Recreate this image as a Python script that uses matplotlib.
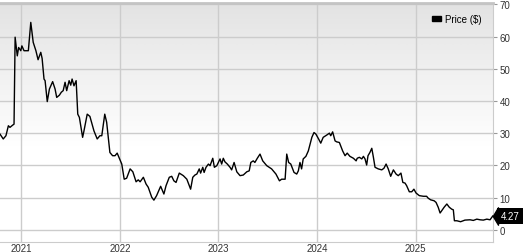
import numpy as np
import pandas as pd
import matplotlib
matplotlib.use("Agg")
import matplotlib.pyplot as plt
from matplotlib.patches import Patch
from matplotlib.colors import LinearSegmentedColormap
from matplotlib.transforms import blended_transform_factory, offset_copy

# weekly closing price
START_DATE = "2020-10-14"
day_offsets = [
    0, 12, 22, 31, 37, 47, 52, 56, 64, 69, 77, 81, 89, 99, 105, 114, 123, 133,
    141, 151, 156, 163, 167, 175, 183, 195, 204, 210, 220, 227, 234, 241, 247,
    256, 262, 267, 274, 282, 288, 294, 306, 311, 323, 333, 348, 360, 370, 377,
    388, 395, 407, 417, 426, 434, 442, 451, 460, 469, 482, 492, 504, 512, 519,
    531, 541, 549, 562, 570, 580, 595, 607, 615, 627, 636, 644, 652, 664, 679,
    692, 706, 714, 722, 729, 738, 743, 751, 756, 763, 772, 778, 788, 794, 803,
    815, 821, 827, 833, 842, 852, 858, 867, 877, 889, 901, 914, 923, 929, 938,
    944, 953, 963, 973, 988, 997, 1006, 1022, 1035, 1043, 1056, 1062, 1069,
    1077, 1089, 1099, 1105, 1111, 1117, 1123, 1133, 1142, 1155, 1163, 1170,
    1180, 1188, 1197, 1210, 1220, 1225, 1232, 1241, 1247, 1257, 1269, 1278,
    1286, 1296, 1309, 1319, 1323, 1331, 1340, 1346, 1352, 1358, 1363, 1370,
    1377, 1383, 1389, 1401, 1414, 1422, 1430, 1438, 1447, 1457, 1467, 1475,
    1485, 1492, 1500, 1506, 1516, 1525, 1533, 1541, 1553, 1568, 1580, 1586,
    1595, 1608, 1615, 1623, 1630, 1636, 1645, 1655, 1664, 1673, 1679, 1683,
    1692, 1706, 1722, 1741, 1753, 1766, 1778, 1790, 1803, 1815, 1825,
]
price = [
    29.7, 28.2, 29.2, 32.3, 31.8, 32.5, 32.8, 59.8, 54.0, 56.6, 55.6, 57.1,
    55.6, 55.6, 55.6, 64.4, 58.2, 55.6, 52.8, 55.1, 53.2, 46.8, 46.3, 39.8,
    43.7, 46.0, 43.7, 41.1, 41.8, 42.7, 43.2, 45.8, 43.2, 46.3, 44.9, 46.8,
    44.7, 46.3, 35.9, 34.9, 28.7, 30.7, 35.9, 35.2, 30.7, 28.2, 29.2, 29.2,
    35.9, 33.4, 24.0, 23.0, 23.0, 23.8, 22.2, 20.4, 15.7, 16.0, 18.9, 18.0,
    14.9, 15.5, 14.9, 16.3, 14.2, 13.2, 10.1, 9.2, 10.6, 13.5, 11.1, 13.7,
    16.3, 16.6, 15.2, 14.7, 17.6, 16.8, 15.7, 12.6, 16.3, 17.0, 17.3, 18.9,
    17.6, 19.4, 17.8, 19.4, 20.4, 19.9, 22.2, 19.4, 19.9, 22.0, 20.4, 22.2,
    21.1, 20.4, 19.4, 18.6, 20.9, 18.0, 16.8, 17.0, 18.0, 18.3, 20.9, 21.4,
    20.9, 22.2, 23.5, 21.4, 19.9, 19.4, 18.9, 17.3, 15.2, 15.7, 15.7, 23.5,
    20.9, 20.4, 17.8, 17.3, 18.3, 20.9, 18.9, 22.0, 22.8, 24.5, 28.7, 30.2,
    29.7, 28.2, 26.9, 28.7, 29.4, 30.0, 29.2, 30.4, 27.6, 27.3, 27.1, 24.5,
    23.0, 23.8, 22.8, 22.2, 21.4, 22.2, 22.5, 22.0, 22.8, 22.0, 20.1, 23.0,
    24.0, 25.3, 22.5, 19.4, 18.9, 18.6, 19.1, 20.4, 18.9, 16.6, 18.6, 17.3,
    16.8, 17.6, 14.7, 14.5, 13.7, 11.8, 11.8, 12.6, 11.4, 10.6, 10.4, 10.4,
    9.8, 9.3, 9.0, 8.5, 7.0, 5.2, 5.9, 7.0, 8.0, 7.0, 6.4, 6.2, 2.8, 2.8,
    2.5, 3.0, 3.1, 2.9, 3.3, 3.1, 3.0, 3.3, 3.1, 4.27,
]
year_ticks = ["2021", "2022", "2023", "2024", "2025"]
y_ticks = [0, 10, 20, 30, 40, 50, 60, 70]

dates = pd.Timestamp(START_DATE) + pd.to_timedelta(day_offsets, unit="D")

plt.rcParams["font.family"] = ["Liberation Sans", "DejaVu Sans"]
FS = 7

fig = plt.figure(figsize=(5.27, 2.53), dpi=100)
ax = fig.add_axes([0.0, 0.0395, 0.935, 0.9445])

# gray at the top fading to white lower down
t = np.linspace(1.0, 0.0, 256).reshape(-1, 1)
grad = np.clip((t - 0.4) / 0.6, 0, 1)
bg = LinearSegmentedColormap.from_list("bg", ["#ffffff", "#e3e3e3"])
ax.imshow(grad, cmap=bg, vmin=0, vmax=1, aspect="auto", extent=(0, 1, 0, 1),
          transform=ax.transAxes, zorder=0, interpolation="bilinear")

ax.plot(dates, price, color="black", lw=1.0, zorder=3)

ax.set_xlim(pd.Timestamp(START_DATE), pd.Timestamp(START_DATE) + pd.Timedelta(days=1825))
ax.set_ylim(-3.8, 70.4)

ax.set_xticks([pd.Timestamp(y + "-01-01") for y in year_ticks])
ax.set_xticklabels(year_ticks)
ax.set_yticks(y_ticks)
ax.yaxis.tick_right()
ax.tick_params(axis="y", length=3, width=0.8, color="#999999", pad=2,
               labelsize=FS, labelcolor="#333333")
ax.tick_params(axis="x", length=0, pad=1, labelsize=FS, labelcolor="#333333")
ax.grid(True, color="#cccccc", lw=1.0, zorder=1)
ax.set_axisbelow(True)

ax.spines["left"].set_visible(False)
ax.spines["top"].set_color("#c4c4c4")
ax.spines["top"].set_linewidth(2.0)
ax.spines["right"].set_color("#cccccc")
ax.spines["bottom"].set_color("#cccccc")

ax.legend(handles=[Patch(facecolor="black", edgecolor="black", label="Price ($)")],
          loc="upper right", frameon=False, fontsize=FS, handlelength=0.9,
          handleheight=0.5, handletextpad=0.5, borderaxespad=0.7)

# last price tag: left-pointing triangle plus black box
edge = blended_transform_factory(ax.transAxes, ax.transData)
tip = [(-0.6, 0), (0, -1), (0, 1), (-0.6, 0)]
ax.plot([1], [price[-1]], marker=tip, ms=12.5, color="black", lw=0,
        transform=offset_copy(edge, fig=fig, x=3.8, y=0, units="points"),
        clip_on=False, zorder=5)
ax.text(1, price[-1], f"{price[-1]:.2f}", color="white", fontsize=FS,
        va="center", ha="left",
        transform=offset_copy(edge, fig=fig, x=5.8, y=0, units="points"),
        bbox=dict(boxstyle="square,pad=0.35", fc="black", ec="none"),
        clip_on=False, zorder=5)

fig.savefig("out.png", dpi=100)
